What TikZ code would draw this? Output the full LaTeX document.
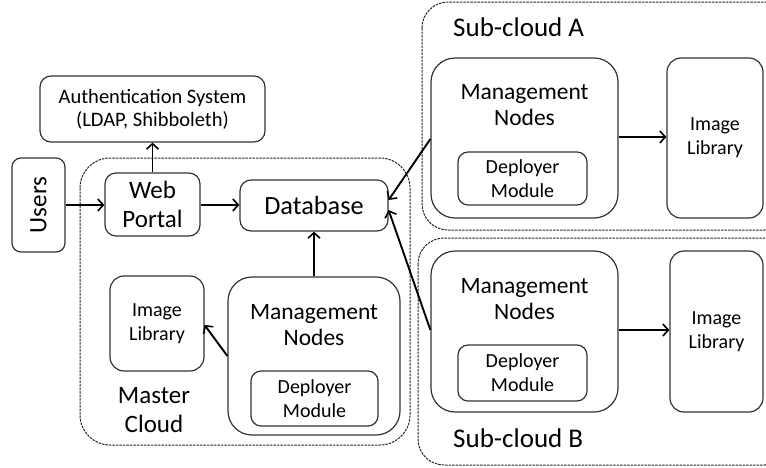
\documentclass[tikz,border=0pt]{standalone}
\usepackage{fontspec}
\setmainfont{Carlito}
\usetikzlibrary{arrows.meta}
\tikzset{
  x=1pt, y=-1pt,
  box/.style={draw=black!80, line width=1.2pt, rounded corners=11pt, inner sep=0pt, align=center},
  bigbox/.style={box, rounded corners=20pt},
  cloud/.style={draw=black!85, line width=1pt, dash pattern=on 2.5pt off 1pt, rounded corners=30pt},
  txt/.style={inner sep=0pt, align=center},
  link/.style={line width=1.9pt, -{Straight Barb[length=5.5pt,width=12pt,line width=1.6pt]}},
}
\begin{document}
\begin{tikzpicture}
\useasboundingbox (0,0) rectangle (766,467);
\clip (0,0) rectangle (766,467);

% clouds
\draw[cloud] (80,158) rectangle (410,445);
\draw[cloud, rounded corners=26pt] (422,2) rectangle (790,230);
\draw[cloud, rounded corners=26pt] (418,238) rectangle (790,465);
\node[txt, anchor=west, font=\fontsize{27}{29}\selectfont] (labA) at (453,27) {Sub-cloud A};
\node[txt, anchor=west, font=\fontsize{27}{29}\selectfont] (labB) at (453,438) {Sub-cloud B};
\node[txt, font=\fontsize{25}{29}\selectfont] (labM) at (154,410) {Master\\Cloud};

% master side
\node[box, minimum width=225pt, minimum height=66pt, font=\fontsize{20.5}{23}\selectfont] (auth) at (152.5,109) {Authentication System\\(LDAP, Shibboleth)};
\node[box, minimum width=53pt, minimum height=94pt, rounded corners=9pt] (users) at (38.5,205) {};
\node[txt, rotate=90, font=\fontsize{25}{28}\selectfont] (userst) at (38.5,205) {Users};
\node[box, minimum width=95pt, minimum height=63pt, font=\fontsize{25}{29}\selectfont] (web) at (152.5,204.5) {Web\\Portal};
\node[box, minimum width=148pt, minimum height=51pt, font=\fontsize{26.3}{28}\selectfont] (db) at (314,205.5) {Database};
\node[box, minimum width=94pt, minimum height=95pt, rounded corners=14pt, font=\fontsize{20}{24}\selectfont] (imgM) at (157,323.5) {Image\\Library};
\node[bigbox, minimum width=172pt, minimum height=158pt, rounded corners=24pt] (mgmtM) at (314,356) {};
\node[txt, font=\fontsize{23.5}{26}\selectfont] (mgmtMt) at (314,325) {Management\\Nodes};
\node[box, minimum width=127pt, minimum height=55pt, rounded corners=10pt, font=\fontsize{20}{24}\selectfont] (depM) at (314.5,398.5) {Deployer\\Module};

% sub-cloud A
\node[bigbox, minimum width=187pt, minimum height=160pt, rounded corners=24pt] (mgmtA) at (524.5,138) {};
\node[txt, font=\fontsize{23.5}{26}\selectfont] (mgmtAt) at (524.5,105) {Management\\Nodes};
\node[box, minimum width=129pt, minimum height=53pt, rounded corners=10pt, font=\fontsize{20}{24}\selectfont] (depA) at (522.5,178.5) {Deployer\\Module};
\node[box, minimum width=96pt, minimum height=160pt, rounded corners=14pt, font=\fontsize{20}{24}\selectfont] (imgA) at (715,138) {Image\\Library};

% sub-cloud B
\node[bigbox, minimum width=187pt, minimum height=161pt, rounded corners=24pt] (mgmtB) at (524.5,331.5) {};
\node[txt, font=\fontsize{23.5}{26}\selectfont] (mgmtBt) at (524.5,299) {Management\\Nodes};
\node[box, minimum width=129pt, minimum height=56pt, rounded corners=10pt, font=\fontsize{20}{24}\selectfont] (depB) at (522.5,373) {Deployer\\Module};
\node[box, minimum width=93pt, minimum height=161pt, rounded corners=14pt, font=\fontsize{20}{24}\selectfont] (imgB) at (716.5,331.5) {Image\\Library};

% connectors
\draw[link] (users.east |- 0,205) -- (web.west |- 0,205);
\draw[link] (web.east |- 0,205) -- (db.west |- 0,205);
\draw[link] (web.north) -- (auth.south -| web.north);
\draw[link] (mgmtM.north) -- (db.south);
\draw[link] (mgmtM.west |- 0,356) -- (imgM.east |- 0,325);
\draw[link] (mgmtA.east |- 0,137) -- (imgA.west |- 0,137);
\draw[link] (mgmtB.east |- 0,330) -- (imgB.west |- 0,330);
\draw[link] (mgmtA.west |- 0,139) -- (db.east |- 0,200);
\draw[link] (mgmtB.west |- 0,330) -- (db.east |- 0,210);
\end{tikzpicture}
\end{document}
